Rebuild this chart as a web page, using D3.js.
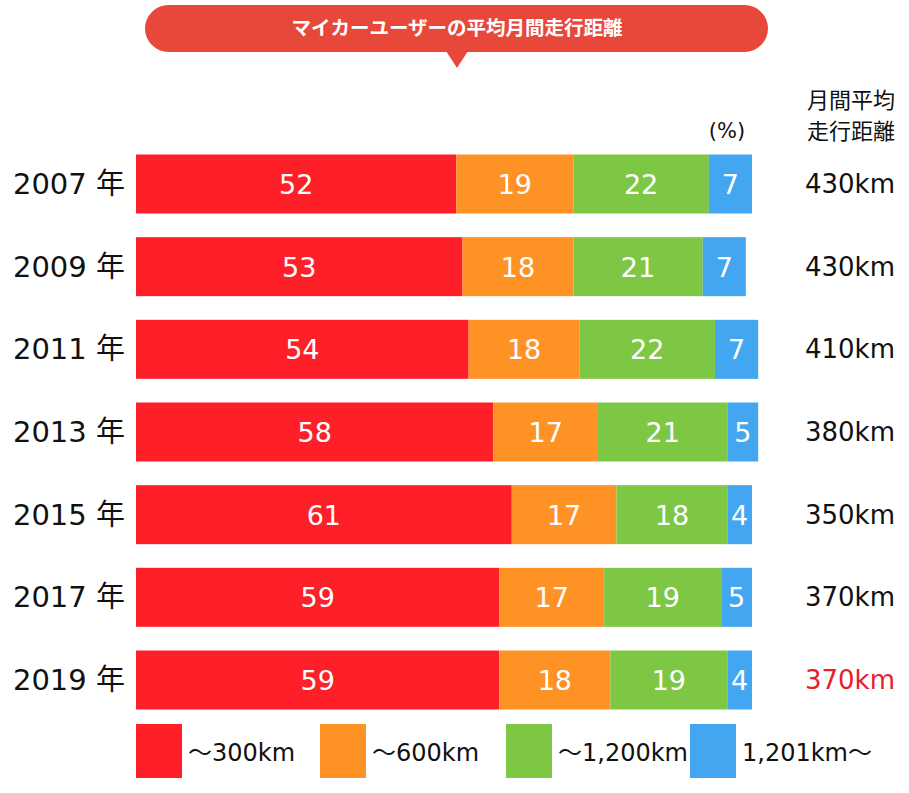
<!DOCTYPE html>
<html>
<head>
<meta charset="utf-8">
<script src="https://cdn.jsdelivr.net/npm/d3@7"></script>
<style>
  body { margin: 0; background: #fff; }
  svg { display: block; font-family: "DejaVu Sans", "Noto Sans CJK JP", sans-serif; }
</style>
</head>
<body>
<svg id="chart" width="909" height="793"></svg>
<script>
// data
const years = ['2007', '2009', '2011', '2013', '2015', '2017', '2019'];
const seriesNames = ['～300km', '～600km', '～1,200km', '1,201km～'];
const upTo300 = [52, 53, 54, 58, 61, 59, 59];
const upTo600 = [19, 18, 18, 17, 17, 17, 18];
const upTo1200 = [22, 21, 22, 21, 18, 19, 19];
const over1200 = [7, 7, 7, 5, 4, 5, 4];
const monthlyKm = [430, 430, 410, 380, 350, 370, 370];

const colors = ['#ff1f28', '#ff9224', '#7dc744', '#42a6f0'];

const svg = d3.select('#chart');

// 年ごとの行データ
const rows = years.map((y, i) => ({
    year: y,
    '～300km': upTo300[i],
    '～600km': upTo600[i],
    '～1,200km': upTo1200[i],
    '1,201km～': over1200[i],
    km: monthlyKm[i]
}));

const stack = d3.stack().keys(seriesNames);
const stacked = stack(rows);

const x = d3.scaleLinear().domain([0, 100]).range([136, 752]);
const y = d3.scalePoint().domain(years).range([184, 680]);
const barH = 59;

// title banner
const banner = svg.append('g');
banner.append('rect')
    .attr('x', 145).attr('y', 5)
    .attr('width', 623).attr('height', 47)
    .attr('rx', 23.5)
    .attr('fill', '#e8483a');
banner.append('path')
    .attr('d', 'M446,51 L468,51 L457,68 Z')
    .attr('fill', '#e8483a');
banner.append('text')
    .attr('x', 457).attr('y', 35)
    .attr('text-anchor', 'middle')
    .attr('fill', '#fff')
    .attr('font-size', 19.5)
    .attr('font-weight', 'bold')
    .attr('font-family', '"Noto Sans CJK JP", sans-serif')
    .text('マイカーユーザーの平均月間走行距離');

// bars
const layers = svg.selectAll('g.layer')
    .data(stacked)
    .enter()
    .append('g')
    .attr('class', 'layer')
    .attr('fill', (d, i) => colors[i]);

layers.selectAll('rect')
    .data(d => d)
    .enter()
    .append('rect')
    .attr('x', d => x(d[0]))
    .attr('y', d => y(d.data.year) - barH / 2)
    .attr('width', d => x(d[1]) - x(d[0]))
    .attr('height', barH);

layers.selectAll('text')
    .data(d => d.map(v => ({ v: v, key: d.key })))
    .enter()
    .append('text')
    .attr('x', d => (x(d.v[0]) + x(d.v[1])) / 2)
    .attr('y', d => y(d.v.data.year) + 10)
    .attr('text-anchor', 'middle')
    .attr('fill', '#fff')
    .attr('font-size', 27)
    .text(d => d.v.data[d.key]);

// year labels
svg.selectAll('text.year')
    .data(rows)
    .enter()
    .append('text')
    .attr('class', 'year')
    .attr('x', 125)
    .attr('y', d => y(d.year) + 10)
    .attr('text-anchor', 'end')
    .attr('font-size', 29)
    .attr('fill', '#111')
    .text(d => d.year + ' 年');

// monthly distance column
svg.selectAll('text.km')
    .data(rows)
    .enter()
    .append('text')
    .attr('class', 'km')
    .attr('x', 850)
    .attr('y', d => y(d.year) + 9)
    .attr('text-anchor', 'middle')
    .attr('font-size', 26)
    .attr('fill', (d, i) => i === rows.length - 1 ? '#e8202a' : '#111')
    .text(d => d.km + 'km');

svg.append('text')
    .attr('x', 851).attr('y', 108)
    .attr('text-anchor', 'middle')
    .attr('font-size', 22)
    .attr('fill', '#111')
    .text('月間平均');
svg.append('text')
    .attr('x', 851).attr('y', 139)
    .attr('text-anchor', 'middle')
    .attr('font-size', 22)
    .attr('fill', '#111')
    .text('走行距離');
svg.append('text')
    .attr('x', 727).attr('y', 138)
    .attr('text-anchor', 'middle')
    .attr('font-size', 21)
    .attr('fill', '#111')
    .text('(%)');

// legend
const legendX = [136, 320, 506, 690];
const legend = svg.selectAll('g.legend')
    .data(seriesNames)
    .enter()
    .append('g')
    .attr('class', 'legend')
    .attr('transform', (d, i) => 'translate(' + legendX[i] + ',724)');

legend.append('rect')
    .attr('width', 46)
    .attr('height', 54)
    .attr('fill', (d, i) => colors[i]);

legend.append('text')
    .attr('x', 52)
    .attr('y', 37)
    .attr('font-size', 24)
    .attr('fill', '#111')
    .text(d => d);
</script>
</body>
</html>
